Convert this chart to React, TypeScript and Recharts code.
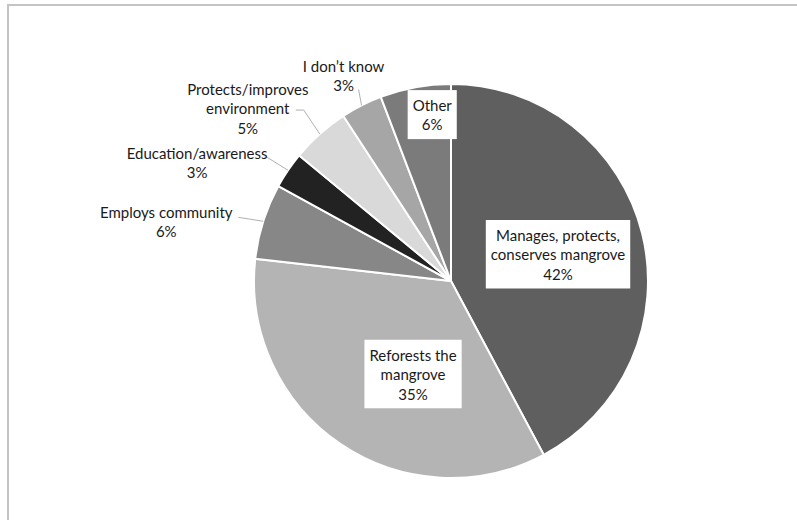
import { PieChart, Pie, Cell } from "recharts"

const categories = [
    "Manages, protects, conserves mangrove",
    "Reforests the mangrove",
    "Employs community",
    "Education/awareness",
    "Protects/improves environment",
    "I don’t know",
    "Other",
]
const labelLines = [
    ["Manages, protects,", "conserves mangrove"],
    ["Reforests the", "mangrove"],
    ["Employs community"],
    ["Education/awareness"],
    ["Protects/improves", "environment"],
    ["I don’t know"],
    ["Other"],
]
const shares = [42.2, 34.6, 6.2, 3.0, 4.8, 3.4, 5.8]
const colors = ["#5f5f5f", "#b4b4b4", "#878787", "#222222", "#d9d9d9", "#a6a6a6", "#7b7b7b"]

const data = categories.map((name, i) => ({ name, value: shares[i] }))

const FONT = "Lato, 'Open Sans', sans-serif"
const FS = 15
const LH = 19.5
const RAD = Math.PI / 180

// inside labels: radius factor + angle tweak; outside labels: offset from arc + leader path
type Place =
    | { kind: "in"; rf: number; da: number }
    | { kind: "out"; dx: number; dy: number; leader: [number, number][] }

const placement: Place[] = [
    { kind: "in", rf: 0.56, da: 0 },
    { kind: "in", rf: 0.51, da: 12 },
    { kind: "out", dx: -97, dy: 0, leader: [[-25, -4]] },
    { kind: "out", dx: -91, dy: -8, leader: [[-21, -13], [-24, -13]] },
    { kind: "out", dx: -72, dy: -26, leader: [[-16, -24], [-24, -24]] },
    { kind: "out", dx: -18, dy: -30, leader: [[-3, -16]] },
    { kind: "in", rf: 0.85, da: -4 },
]

let ctx: CanvasRenderingContext2D | null = null
function textWidth(s: string) {
    if (!ctx) ctx = document.createElement("canvas").getContext("2d")
    if (!ctx) return s.length * 7
    ctx.font = `${FS}px ${FONT}`
    return ctx.measureText(s).width
}

function renderLabel(props: any) {
    const { cx, cy, midAngle, outerRadius, percent, index } = props
    const p = placement[index]
    const lines = [...labelLines[index], `${Math.round(percent * 100)}%`]

    if (p.kind === "in") {
        const a = (midAngle + p.da) * RAD
        const x = cx + outerRadius * p.rf * Math.cos(-a)
        const y = cy + outerRadius * p.rf * Math.sin(-a)
        const w = Math.max(...lines.map(textWidth)) + 10
        const h = lines.length * LH + 10
        return (
            <g key={`lbl-${index}`}>
                <rect x={x - w / 2} y={y - h / 2} width={w} height={h} fill="#fff" />
                {lines.map((t, i) => (
                    <text
                        key={i}
                        x={x}
                        y={y - ((lines.length - 1) * LH) / 2 + i * LH}
                        textAnchor="middle"
                        dominantBaseline="central"
                        fontFamily={FONT}
                        fontSize={FS}
                        fill="#1a1a1a"
                    >
                        {t}
                    </text>
                ))}
            </g>
        )
    }

    const ax = cx + outerRadius * Math.cos(-midAngle * RAD)
    const ay = cy + outerRadius * Math.sin(-midAngle * RAD)
    const pts = [[ax, ay], ...p.leader.map(([dx, dy]) => [ax + dx, ay + dy])]
    const x = ax + p.dx
    const y = ay + p.dy
    return (
        <g key={`lbl-${index}`}>
            <polyline
                points={pts.map((q) => q.join(",")).join(" ")}
                fill="none"
                stroke="#b0b0b0"
                strokeWidth={1}
            />
            {lines.map((t, i) => (
                <text
                    key={i}
                    x={x}
                    y={y - ((lines.length - 1) * LH) / 2 + i * LH}
                    textAnchor="middle"
                    dominantBaseline="central"
                    fontFamily={FONT}
                    fontSize={FS}
                    fill="#1a1a1a"
                >
                    {t}
                </text>
            ))}
        </g>
    )
}

export default function App() {
    return (
        <div style={{ position: "absolute", left: 0, top: 0, width: 797, height: 520, background: "#fff", overflow: "hidden" }}>
            <div
                style={{
                    position: "absolute",
                    left: 7,
                    top: 4,
                    width: 820,
                    height: 540,
                    borderTop: "2px solid #c4c4c4",
                    borderLeft: "2px solid #c4c4c4",
                }}
            />
            <div style={{ position: "absolute", left: 0, top: 0 }}>
                <PieChart width={797} height={520} margin={{ top: 0, right: 0, bottom: 0, left: 0 }}>
                    <Pie
                        data={data}
                        dataKey="value"
                        nameKey="name"
                        cx={451}
                        cy={281}
                        outerRadius={197}
                        startAngle={90}
                        endAngle={-270}
                        stroke="#fff"
                        strokeWidth={2}
                        label={renderLabel}
                        labelLine={false}
                        isAnimationActive={false}
                    >
                        {data.map((d, i) => (
                            <Cell key={d.name} fill={colors[i]} />
                        ))}
                    </Pie>
                </PieChart>
            </div>
        </div>
    )
}
